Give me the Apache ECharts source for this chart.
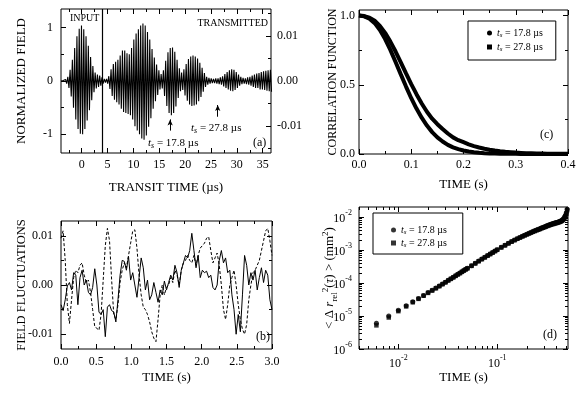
<!DOCTYPE html>
<html><head><meta charset="utf-8">
<script src="https://cdn.jsdelivr.net/npm/echarts@6/dist/echarts.min.js"></script>
<style>html,body{margin:0;padding:0;background:#fff}#c{width:587px;height:394px}</style>
</head><body><div id="c"></div>
<script>
const FONT = '"Liberation Serif","Times New Roman",serif';

// ---------- (a) transit-time waveform: signed half-cycle peak values ----------
const fieldStart = -4.0;   // µs, first sample
const fieldStep = 0.22;    // µs between samples (half carrier period)
const fieldValues = [
0.00,-0.005,0.01,-0.02,0.03,-0.05,0.08,-0.13,0.21,-0.29,
0.40,-0.50,0.62,-0.72,0.84,-0.90,0.98,-0.99,1.04,-1.00,
0.97,-0.90,0.84,-0.74,0.66,-0.55,0.45,-0.36,0.28,-0.21,
0.16,-0.14,0.12,-0.11,0.10,-0.09,0.07,-0.05,0.04,-0.03,
0.04,-0.05,0.09,-0.15,0.22,-0.28,0.32,-0.35,0.36,-0.40,
0.40,-0.44,0.48,-0.52,0.57,-0.58,0.57,-0.60,0.52,-0.62,
0.50,-0.64,0.62,-0.72,0.78,-0.85,0.89,-0.93,0.97,-1.00,
1.04,-1.08,1.08,-1.10,1.04,-1.02,0.92,-0.86,0.78,-0.70,
0.60,-0.52,0.44,-0.38,0.31,-0.26,0.20,-0.16,0.13,-0.14,
0.20,-0.28,0.38,-0.47,0.54,-0.60,0.62,-0.64,0.63,-0.60,
0.55,-0.48,0.40,-0.32,0.24,-0.19,0.16,-0.17,0.22,-0.27,
0.32,-0.37,0.41,-0.44,0.46,-0.47,0.48,-0.46,0.46,-0.44,
0.42,-0.38,0.34,-0.30,0.25,-0.20,0.15,-0.11,0.08,-0.07,
0.06,-0.05,0.05,-0.04,0.04,-0.04,0.05,-0.05,0.05,-0.06,
0.07,-0.07,0.09,-0.10,0.13,-0.13,0.17,-0.16,0.20,-0.18,
0.22,-0.19,0.21,-0.17,0.17,-0.13,0.12,-0.09,0.08,-0.06,
0.06,-0.05,0.05,-0.06,0.07,-0.07,0.08,-0.09,0.10,-0.11,
0.12,-0.13,0.14,-0.13,0.15,-0.16,0.17,-0.16,0.18,-0.17,
0.19,-0.18,0.20,-0.19,0.21,-0.20
];
const transitTicks = [0,5,10,15,20,25,30,35];
const transitMinor = [-2.5,2.5,7.5,12.5,17.5,22.5,27.5,32.5];
const normTicks = [-1,0,1];
const normMinor = [-0.5,0.5];
const rawTicks = [-0.01,0,0.01];
const rawMinor = [-0.015,-0.005,0.005,0.015];

// ---------- (b) field fluctuations ----------
const flucStep = 0.03; // s
const flucSolid = [
-0.0040,-0.0052,-0.0030,-0.0002,0.0005,-0.0010,0.0025,0.0020,-0.0040,0.0015,
0.0030,0.0000,0.0010,-0.0015,-0.0020,-0.0005,0.0033,0.0000,-0.0055,-0.0060,
-0.0050,-0.0105,-0.0045,-0.0040,-0.0052,-0.0055,-0.0075,-0.0030,0.0020,0.0050,
0.0048,0.0030,0.0058,0.0010,0.0025,0.0000,-0.0025,0.0015,0.0055,0.0035,
-0.0010,0.0010,-0.0030,-0.0020,0.0005,-0.0015,-0.0035,-0.0010,-0.0020,0.0008,
-0.0010,0.0005,0.0020,0.0010,0.0040,0.0025,-0.0005,0.0030,0.0045,0.0060,
0.0055,0.0070,0.0105,0.0070,0.0035,0.0060,0.0015,0.0030,0.0025,0.0028,
0.0015,0.0020,-0.0005,-0.0010,0.0000,0.0050,0.0070,0.0045,0.0055,0.0025,
0.0030,-0.0020,-0.0050,-0.0100,-0.0060,-0.0095,-0.0020,0.0060,0.0040,0.0000,
0.0025,0.0010,0.0030,-0.0010,0.0015,0.0035,0.0005,0.0030,0.0020,-0.0030,
-0.0050
];
const flucDashed = [
0.0095,0.0110,0.0050,-0.0040,-0.0078,-0.0030,0.0015,0.0030,0.0025,0.0040,
0.0045,0.0020,0.0005,0.0010,-0.0015,-0.0050,-0.0085,-0.0088,-0.0092,-0.0060,
0.0010,0.0080,0.0115,0.0090,0.0010,-0.0060,-0.0070,-0.0040,0.0005,0.0030,
0.0045,0.0035,0.0060,0.0085,0.0110,0.0112,0.0075,0.0020,-0.0020,-0.0045,
-0.0050,-0.0060,-0.0075,-0.0095,-0.0108,-0.0115,-0.0070,-0.0020,0.0000,-0.0020,
-0.0005,0.0000,0.0015,0.0005,0.0030,0.0020,0.0000,0.0030,0.0045,0.0050,
0.0060,0.0050,0.0045,0.0060,0.0040,0.0060,0.0075,0.0080,0.0085,0.0095,
0.0098,0.0070,0.0045,0.0055,0.0065,0.0040,0.0000,-0.0050,-0.0070,-0.0040,
0.0000,0.0015,0.0030,0.0000,-0.0040,-0.0070,-0.0090,-0.0100,-0.0080,-0.0030,
0.0000,0.0025,0.0030,0.0040,0.0050,0.0070,0.0090,0.0110,0.0115,0.0090,
0.0060
];
const flucTimeTicks = [0,0.5,1,1.5,2,2.5,3];
const flucTimeMinor = [0.25,0.75,1.25,1.75,2.25,2.75];
const flucTicks = [-0.01,0,0.01];
const flucMinor = [-0.005,0.005];

// ---------- (c) correlation functions ----------
const corrStep = 0.01; // s
const corr17 = [1.000,0.996,0.985,0.962,0.925,0.875,0.812,0.740,0.662,0.582,
0.505,0.432,0.365,0.305,0.255,0.215,0.180,0.148,0.120,0.100,
0.085,0.070,0.057,0.047,0.038,0.031,0.025,0.020,0.016,0.013,
0.010,0.008,0.006,0.005,0.004,0.003,0.002,0.002,0.001,0.001,0.001];
const corr27 = [1.000,0.994,0.977,0.945,0.895,0.830,0.752,0.665,0.575,0.487,
0.403,0.328,0.262,0.205,0.158,0.120,0.090,0.066,0.048,0.035,
0.025,0.018,0.013,0.009,0.006,0.004,0.003,0.002,0.001,0.001,
0.001,0.000,0.000,0.000,0.000,0.000,0.000,0.000,0.000,0.000,0.000];
const corrTimeTicks = [0,0.1,0.2,0.3,0.4];
const corrTimeMinor = [0.05,0.15,0.25,0.35];
const corrTicks = [0,0.5,1.0];
const corrMinor = [0.25,0.75];

// ---------- (d) mean square displacement ----------
const msdTimes = [0.006,0.008,0.010,0.012,0.014,0.016,0.018,0.020,0.022,0.024,0.026,0.028,0.030,
0.032,0.034,0.036,0.038,0.040,0.042,0.044,0.046,0.048,0.050,
0.055,0.060,0.065,0.070,0.075,0.080,0.085,0.090,0.095,0.100,
0.11,0.12,0.13,0.14,0.15,0.16,0.17,0.18,0.19,0.20,0.21,0.22,0.23,0.24,0.25,0.26,0.27,0.28,0.29,0.30,
0.31,0.32,0.33,0.34,0.35,0.36,0.37,0.38,0.39,0.40,0.41,0.42,0.43,0.44,0.45,0.46,0.47,0.48,0.49,0.50,0.51];
const msd17 = [6.0e-6,1.0e-5,1.5e-5,2.05e-5,2.7e-5,3.4e-5,4.2e-5,5.1e-5,6.0e-5,7.0e-5,8.1e-5,9.3e-5,1.06e-4,
1.2e-4,1.34e-4,1.5e-4,1.66e-4,1.83e-4,2.0e-4,2.2e-4,2.4e-4,2.6e-4,2.8e-4,
3.35e-4,3.95e-4,4.6e-4,5.3e-4,6.0e-4,6.8e-4,7.6e-4,8.4e-4,9.3e-4,1.02e-3,
1.2e-3,1.4e-3,1.6e-3,1.8e-3,2.0e-3,2.2e-3,2.4e-3,2.6e-3,2.8e-3,3.0e-3,3.2e-3,3.4e-3,3.6e-3,3.8e-3,4.0e-3,4.2e-3,4.4e-3,4.6e-3,4.8e-3,5.0e-3,
5.2e-3,5.4e-3,5.6e-3,5.8e-3,6.0e-3,6.2e-3,6.35e-3,6.5e-3,6.65e-3,6.8e-3,6.95e-3,7.1e-3,7.3e-3,7.5e-3,7.8e-3,8.2e-3,8.8e-3,9.8e-3,1.12e-2,1.35e-2,1.7e-2];
const msd27 = [5.2e-6,9.0e-6,1.4e-5,1.95e-5,2.6e-5,3.3e-5,4.1e-5,5.0e-5,5.9e-5,6.9e-5,8.0e-5,9.2e-5,1.05e-4,
1.19e-4,1.33e-4,1.48e-4,1.64e-4,1.81e-4,1.98e-4,2.17e-4,2.37e-4,2.57e-4,2.77e-4,
3.3e-4,3.9e-4,4.55e-4,5.25e-4,5.95e-4,6.7e-4,7.5e-4,8.3e-4,9.2e-4,1.01e-3,
1.19e-3,1.38e-3,1.58e-3,1.78e-3,1.98e-3,2.18e-3,2.37e-3,2.57e-3,2.77e-3,2.96e-3,3.15e-3,3.35e-3,3.55e-3,3.74e-3,3.93e-3,4.12e-3,4.3e-3,4.5e-3,4.7e-3,4.9e-3,
5.1e-3,5.3e-3,5.5e-3,5.7e-3,5.85e-3,6.0e-3,6.15e-3,6.3e-3,6.45e-3,6.6e-3,6.75e-3,6.9e-3,7.1e-3,7.3e-3,7.6e-3,8.0e-3,8.6e-3,9.5e-3,1.05e-2,1.25e-2,1.6e-2];
const msdTimeTicks = [0.01,0.1];
const msdTimeMinor = [0.004,0.005,0.006,0.007,0.008,0.009,0.02,0.03,0.04,0.05,0.06,0.07,0.08,0.09,0.2,0.3,0.4,0.5];
const msdTicks = [1e-6,1e-5,1e-4,1e-3,1e-2];
const msdMinor = [2e-6,3e-6,4e-6,5e-6,6e-6,7e-6,8e-6,9e-6,2e-5,3e-5,4e-5,5e-5,6e-5,7e-5,8e-5,9e-5,
2e-4,3e-4,4e-4,5e-4,6e-4,7e-4,8e-4,9e-4,2e-3,3e-3,4e-3,5e-3,6e-3,7e-3,8e-3,9e-3];

const legendLabels = {c17:'17.8', c27:'27.8', d17:'17.8', d27:'27.8'};

// ---------- build ----------
const xAxis = [], yAxis = [];
function axisPair(list, grid, s) {
  const common = {gridIndex: grid, type: s.type || 'value', min: s.min, max: s.max, position: s.pos,
    splitLine: {show: false}, axisLine: {show: false, onZero: false}, axisPointer: {show: false}};
  const idx = list.length;
  const major = Object.assign({}, common, {
    axisTick: {show: true, inside: true, length: 5, customValues: s.major, lineStyle: {color: '#000', width: 1}},
    axisLabel: s.fmt ? {show: true, customValues: s.major, formatter: s.fmt, margin: s.margin,
      fontFamily: FONT, fontSize: 12, color: '#000', rich: s.rich} : {show: false}
  });
  if (s.name) Object.assign(major, {name: s.name, nameLocation: 'middle', nameGap: s.nameGap,
    nameMoveOverlap: false, nameTextStyle: Object.assign({fontFamily: FONT, fontSize: 13, color: '#000'}, s.nameStyle || {})});
  list.push(major);
  list.push(Object.assign({}, common, {
    axisTick: {show: true, inside: true, length: 3, customValues: s.minor, lineStyle: {color: '#000', width: 1}},
    axisLabel: {show: false}}));
  return idx;
}
const f0 = v => String(Math.round(v));
const f1 = v => v.toFixed(1);
const f2 = v => v.toFixed(2);
const supRich = {
  b: {fontFamily: FONT, fontSize: 12, color: '#000', lineHeight: 16, verticalAlign: 'bottom'},
  e: {fontFamily: FONT, fontSize: 8, color: '#000', lineHeight: 16, verticalAlign: 'top'}
};
const fPow = v => '{b|10}{e|' + Math.round(Math.log10(v)) + '}';

// grid 0 (a)
const xa = axisPair(xAxis, 0, {pos: 'bottom', min: -4, max: 36.6, major: transitTicks, minor: transitMinor, fmt: f0, margin: 6,
  name: 'TRANSIT TIME (\u00b5s)', nameGap: 28});
axisPair(xAxis, 0, {pos: 'top', min: -4, max: 36.6, major: transitTicks, minor: transitMinor});
const ya = axisPair(yAxis, 0, {pos: 'left', min: -1.35, max: 1.35, major: normTicks, minor: normMinor, fmt: f0, margin: 8,
  name: 'NORMALIZED FIELD', nameGap: 33});
axisPair(yAxis, 0, {pos: 'right', min: -0.016, max: 0.016, major: rawTicks, minor: rawMinor, fmt: f2, margin: 6});
// grid 1 (b)
const xb = axisPair(xAxis, 1, {pos: 'bottom', min: 0, max: 3, major: flucTimeTicks, minor: flucTimeMinor, fmt: f1, margin: 7,
  name: 'TIME (s)', nameGap: 22});
axisPair(xAxis, 1, {pos: 'top', min: 0, max: 3, major: flucTimeTicks, minor: flucTimeMinor});
const yb = axisPair(yAxis, 1, {pos: 'left', min: -0.013, max: 0.013, major: flucTicks, minor: flucMinor, fmt: f2, margin: 8,
  name: 'FIELD FLUCTUATIONS', nameGap: 33, nameStyle: {fontSize: 12.5}});
axisPair(yAxis, 1, {pos: 'right', min: -0.013, max: 0.013, major: flucTicks, minor: flucMinor});
// grid 2 (c)
const xc = axisPair(xAxis, 2, {pos: 'bottom', min: 0, max: 0.4, major: corrTimeTicks, minor: corrTimeMinor, fmt: f1, margin: 5,
  name: 'TIME (s)', nameGap: 24});
axisPair(xAxis, 2, {pos: 'top', min: 0, max: 0.4, major: corrTimeTicks, minor: corrTimeMinor});
const yc = axisPair(yAxis, 2, {pos: 'left', min: 0, max: 1.04, major: corrTicks, minor: corrMinor, fmt: f1, margin: 4,
  name: 'CORRELATION FUNCTION', nameGap: 20, nameStyle: {fontSize: 12}});
axisPair(yAxis, 2, {pos: 'right', min: 0, max: 1.04, major: corrTicks, minor: corrMinor});
// grid 3 (d)
const xd = axisPair(xAxis, 3, {type: 'log', pos: 'bottom', min: 0.004, max: 0.52, major: msdTimeTicks, minor: msdTimeMinor,
  fmt: fPow, rich: supRich, margin: 5, name: 'TIME (s)', nameGap: 22});
axisPair(xAxis, 3, {type: 'log', pos: 'top', min: 0.004, max: 0.52, major: msdTimeTicks, minor: msdTimeMinor});
const yd = axisPair(yAxis, 3, {type: 'log', pos: 'left', min: 1e-6, max: 0.02, major: msdTicks, minor: msdMinor,
  fmt: fPow, rich: supRich, margin: 7,
  name: '< \u0394 {i|r}{sub|rel}{sup|2}({i|\u03c4}) > (mm{sup|2})', nameGap: 20,
  nameStyle: {lineHeight: 18, rich: {
    i: {fontFamily: FONT, fontSize: 13, fontStyle: 'italic', color: '#000', lineHeight: 18},
    sub: {fontFamily: FONT, fontSize: 9, color: '#000', lineHeight: 18, verticalAlign: 'bottom'},
    sup: {fontFamily: FONT, fontSize: 9, color: '#000', lineHeight: 18, verticalAlign: 'top'}
  }}});
axisPair(yAxis, 3, {type: 'log', pos: 'right', min: 1e-6, max: 0.02, major: msdTicks, minor: msdMinor});

const fieldData = fieldValues.map((v, i) => [fieldStart + i * fieldStep, v]);
const flucSolidData = flucSolid.map((v, i) => [i * flucStep, v]);
const flucDashedData = flucDashed.map((v, i) => [i * flucStep, v]);
const corr17Data = corr17.map((v, i) => [i * corrStep, v]);
const corr27Data = corr27.map((v, i) => [i * corrStep, v]);
const msd17Data = msdTimes.map((t, i) => [t, msd17[i]]);
const msd27Data = msdTimes.map((t, i) => [t, msd27[i]]);

const subRich = (size, lh) => ({
  i: {fontFamily: FONT, fontSize: size, fontStyle: 'italic', color: '#000', lineHeight: lh},
  s: {fontFamily: FONT, fontSize: Math.round(size * 0.7), fontStyle: 'italic', color: '#000', lineHeight: lh, verticalAlign: 'bottom'}
});
const legendBase = {
  orient: 'vertical', borderColor: '#000', borderWidth: 1, borderRadius: 0,
  itemWidth: 5, itemHeight: 5, selectedMode: false, backgroundColor: '#fff',
  itemStyle: {color: '#000', borderWidth: 0},
  formatter: n => '{i|t}{s|s} = ' + legendLabels[n] + ' \u00b5s',
  textStyle: {fontFamily: FONT, fontSize: 10, color: '#000', lineHeight: 12, rich: subRich(10, 12)}
};

const txt = (x, y, text, size, extra) => ({type: 'text', x, y, silent: true,
  style: Object.assign({text, fontFamily: FONT, fontSize: size, fill: '#000', verticalAlign: 'middle', align: 'left'}, extra || {})});

const option = {
  animation: false,
  backgroundColor: '#fff',
  grid: [
    {left: 61, top: 9, width: 210, height: 144},
    {left: 61, top: 221, width: 211, height: 128},
    {left: 359, top: 10, width: 209, height: 144},
    {left: 359, top: 207, width: 209, height: 142}
  ].map(g => Object.assign(g, {show: true, borderColor: '#000', borderWidth: 1, backgroundColor: 'transparent',
    containLabel: false, outerBoundsMode: 'none'})),
  xAxis, yAxis,
  legend: [
    Object.assign({}, legendBase, {left: 468, top: 21, padding: [6, 13, 7, 19], itemGap: 2,
      data: [{name: 'c17', icon: 'circle'}, {name: 'c27', icon: 'rect'}]}),
    Object.assign({}, legendBase, {left: 373, top: 213, padding: [11, 16, 5, 18], itemGap: 1,
      data: [{name: 'd17', icon: 'circle'}, {name: 'd27', icon: 'rect'}]})
  ],
  series: [
    {type: 'line', name: 'field', xAxisIndex: xa, yAxisIndex: ya, data: fieldData, showSymbol: false, symbol: 'none',
      lineStyle: {color: '#000', width: 1.1}, silent: true,
      markLine: {silent: true, symbol: ['none', 'none'], label: {show: false}, animation: false,
        lineStyle: {color: '#000', type: 'solid', width: 1},
        data: [
          {xAxis: 4, lineStyle: {width: 1.2}},
          [{coord: [17.1, -0.93], symbol: 'none'}, {coord: [17.1, -0.72], symbol: 'arrow', symbolSize: [4, 6]}],
          [{coord: [26.3, -0.67], symbol: 'none'}, {coord: [26.3, -0.45], symbol: 'arrow', symbolSize: [4, 6]}]
        ]}},
    {type: 'line', name: 'solid', xAxisIndex: xb, yAxisIndex: yb, data: flucSolidData, showSymbol: false, symbol: 'none',
      lineStyle: {color: '#000', width: 1}, silent: true},
    {type: 'line', name: 'dashed', xAxisIndex: xb, yAxisIndex: yb, data: flucDashedData, showSymbol: false, symbol: 'none',
      lineStyle: {color: '#000', width: 1, type: [3, 2]}, silent: true},
    {type: 'line', name: 'c17', xAxisIndex: xc, yAxisIndex: yc, data: corr17Data, showSymbol: false, symbol: 'none',
      itemStyle: {color: '#000'}, lineStyle: {color: '#000', width: 4}, silent: true},
    {type: 'line', name: 'c27', xAxisIndex: xc, yAxisIndex: yc, data: corr27Data, showSymbol: false, symbol: 'none',
      itemStyle: {color: '#000'}, lineStyle: {color: '#000', width: 4}, silent: true},
    {type: 'scatter', name: 'd17', xAxisIndex: xd, yAxisIndex: yd, data: msd17Data, symbol: 'circle', symbolSize: 5,
      itemStyle: {color: '#000'}, silent: true},
    {type: 'scatter', name: 'd27', xAxisIndex: xd, yAxisIndex: yd, data: msd27Data, symbol: 'rect', symbolSize: 4.5,
      itemStyle: {color: '#000'}, silent: true}
  ],
  graphic: [
    txt(70, 18, 'INPUT', 10),
    txt(268, 23, 'TRANSMITTED', 10, {align: 'right'}),
    txt(148, 143, '{i|t}{s|s} = 17.8 \u00b5s', 11, {lineHeight: 14, rich: subRich(11, 14)}),
    txt(191, 128, '{i|t}{s|s} = 27.8 \u00b5s', 11, {lineHeight: 14, rich: subRich(11, 14)}),
    txt(253, 143, '(a)', 12),
    txt(255, 337, '(b)', 12, {backgroundColor: '#fff', padding: [0, 1]}),
    txt(540, 135, '(c)', 12),
    txt(543, 335, '(d)', 12)
  ]
};
const chart = echarts.init(document.getElementById('c'));
chart.setOption(option);
</script>
</body></html>
